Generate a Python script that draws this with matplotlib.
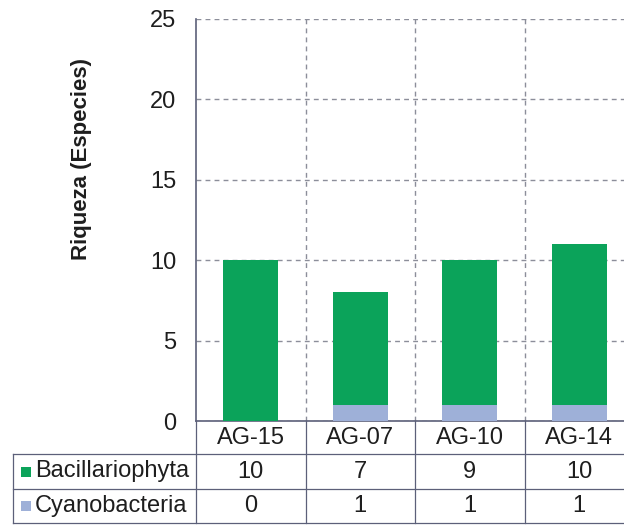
import matplotlib.pyplot as plt
import matplotlib.transforms as mtransforms
from matplotlib.lines import Line2D
from matplotlib.patches import Rectangle

plt.rcParams['font.family'] = ['Liberation Sans', 'DejaVu Sans']

sites = ["AG-15", "AG-07", "AG-10", "AG-14"]
bacillariophyta = [10, 7, 9, 10]
cyanobacteria = [0, 1, 1, 1]
groups = ["Bacillariophyta", "Cyanobacteria"]

GREEN = "#0ba35a"
BLUE = "#9eb0d8"
EDGE = "#5c6079"
GRID = "#8c8e9a"
TXT = "#1e1e1e"
FS = 17

W, H = 624, 525
fig = plt.figure(figsize=(W / 100, H / 100), dpi=100)


def fx(px):
    return px / W


def fy(py):
    # pixel rows are counted from the top
    return 1 - py / H


# axes span from 196 to 634 px horizontally (right side runs past the edge)
ax = fig.add_axes([fx(196), fy(421), fx(634 - 196), fy(19) - fy(421)])

x = range(len(sites))
ax.bar(x, cyanobacteria, width=0.5, color=BLUE, zorder=3)
ax.bar(x, bacillariophyta, width=0.5, bottom=cyanobacteria, color=GREEN, zorder=3)

ax.set_xlim(-0.5, len(sites) - 0.5)
ax.set_ylim(0, 25)
ax.set_yticks(range(0, 26, 5))
ax.set_xticks([])
ax.set_xticks([i + 0.5 for i in range(len(sites) - 1)], minor=True)
ax.tick_params(axis='y', length=0, pad=14, labelsize=FS, labelcolor=TXT)
ax.tick_params(axis='x', which='both', length=0)
ax.grid(True, which='major', axis='y', linestyle=(0, (3.5, 3)), color=GRID, linewidth=1, zorder=0)
ax.grid(True, which='minor', axis='x', linestyle=(0, (3.5, 3)), color=GRID, linewidth=1, zorder=0)

for side in ['top', 'right']:
    ax.spines[side].set_visible(False)
for side in ['left', 'bottom']:
    ax.spines[side].set_color(EDGE)
    ax.spines[side].set_linewidth(1.2)

fig.text(fx(82), fy(159), "Riqueza (Especies)", rotation=90, ha='center', va='center',
         fontsize=16, fontweight='bold', color=TXT)

# data table under the plot
tr = mtransforms.blended_transform_factory(ax.transData, fig.transFigure)
row_edges = [421, 454, 489, 523]
n = len(sites)

for i, name in enumerate(sites):
    yc = (row_edges[0] + row_edges[1]) / 2
    t = fig.text(i, fy(yc), name, fontsize=FS, ha='center', va='center', color=TXT)
    t.set_transform(tr)

for r, (name, vals, col) in enumerate(zip(groups, [bacillariophyta, cyanobacteria], [GREEN, BLUE])):
    yc = (row_edges[r + 1] + row_edges[r + 2]) / 2
    for i, v in enumerate(vals):
        t = fig.text(i, fy(yc), str(v), fontsize=FS, ha='center', va='center', color=TXT)
        t.set_transform(tr)
    fig.text(fx(35), fy(yc), name, fontsize=FS, ha='left', va='center', color=TXT)
    fig.add_artist(Rectangle((fx(21), fy(yc + 5)), fx(10), fy(yc - 5) - fy(yc + 5),
                             transform=fig.transFigure, facecolor=col, edgecolor='none'))

# horizontal rules
for yy in row_edges[1:]:
    fig.add_artist(Line2D([fx(13), 1], [fy(yy), fy(yy)], transform=fig.transFigure,
                          color=EDGE, linewidth=0.9))
# left border of row labels
fig.add_artist(Line2D([fx(13), fx(13)], [fy(row_edges[1]), fy(row_edges[-1])],
                      transform=fig.transFigure, color=EDGE, linewidth=0.9))
# column separators
for i in range(n):
    xb = i - 0.5
    fig.add_artist(Line2D([xb, xb], [fy(row_edges[0]), fy(row_edges[-1])], transform=tr,
                          color=EDGE, linewidth=0.9))

fig.savefig("out.png", dpi=100)
